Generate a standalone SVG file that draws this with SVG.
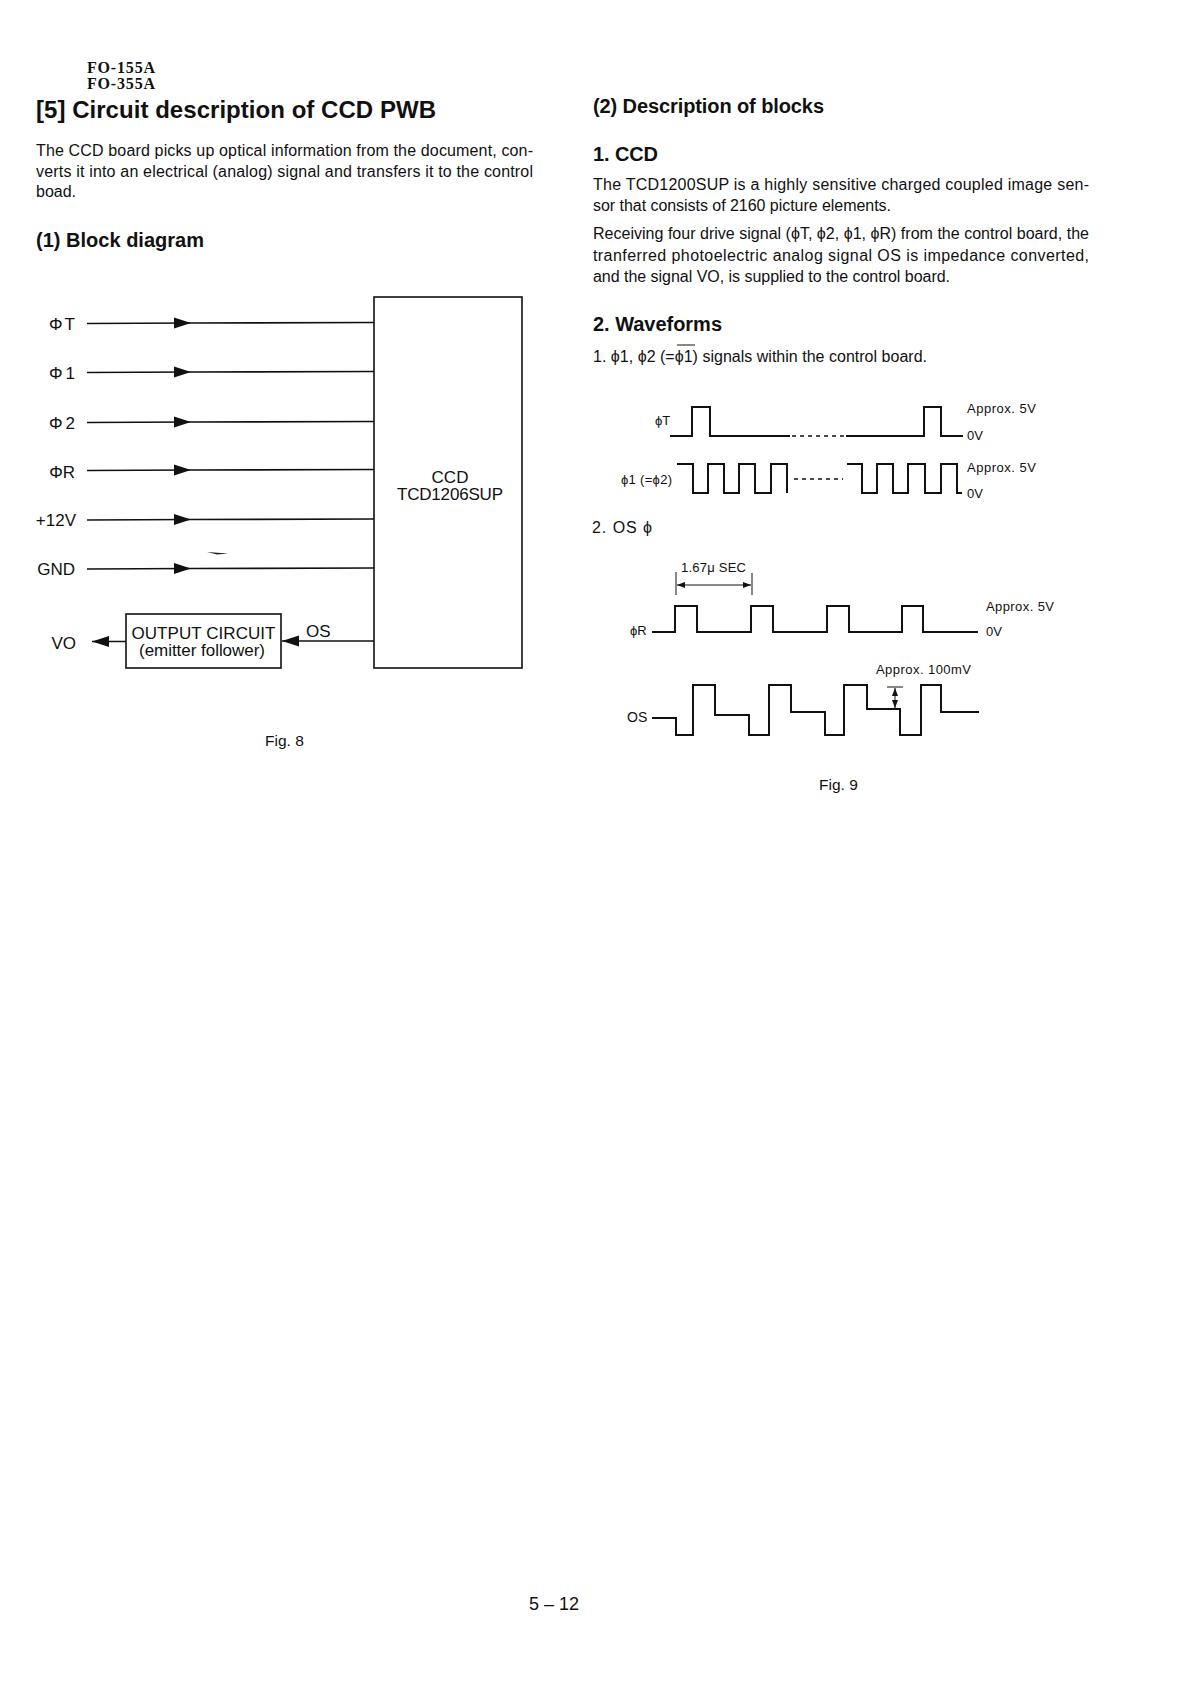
<svg xmlns="http://www.w3.org/2000/svg" width="1192" height="1688" viewBox="0 0 1192 1688">
<style>
text{font-family:"Liberation Sans",Arial,sans-serif;fill:#111}
.h{font-weight:700}
.b{font-size:16px}
.s{font-size:13px}
.d{font-size:17px}
.m{font-family:"Liberation Serif","Times New Roman",serif;font-size:16px;font-weight:700}
.box{fill:none;stroke:#111;stroke-width:1.6}
.c{fill:none;stroke:#111;stroke-width:1.7}
.w{fill:none;stroke:#111;stroke-width:2}
.dash{fill:none;stroke:#111;stroke-width:1.5;stroke-dasharray:4 4}
.t{fill:none;stroke:#111;stroke-width:1}
</style>
<defs>
<marker id="arr" markerUnits="userSpaceOnUse" markerWidth="17" markerHeight="12" refX="17" refY="6" orient="auto"><path d="M0 .5L17 6L0 11.5z" fill="#111"/></marker>
<marker id="sm" markerUnits="userSpaceOnUse" markerWidth="8" markerHeight="7" refX="8" refY="3.5" orient="auto-start-reverse"><path d="M0 .5L8 3.5L0 6.500z" fill="#111"/></marker>
</defs>
<rect width="1192" height="1688" fill="#fff"/>

<g id="page-text">
<text class="m" x="87" y="73" textLength="68">FO-155A</text>
<text class="m" x="87" y="89" textLength="68">FO-355A</text>
<text class="h" x="36" y="118" font-size="24" textLength="400">[5] Circuit description of CCD PWB</text>
<text class="b" x="36" y="155.500" textLength="497">The CCD board picks up optical information from the document, con-</text>
<text class="b" x="36" y="177" textLength="497">verts it into an electrical (analog) signal and transfers it to the control</text>
<text class="b" x="36" y="197">boad.</text>
<text class="h" x="36" y="247" font-size="20" textLength="168">(1) Block diagram</text>
<text class="h" x="593" y="113" font-size="20" textLength="231">(2) Description of blocks</text>
<text class="h" x="593" y="161" font-size="20" textLength="65">1. CCD</text>
<text class="b" x="593" y="190" textLength="496">The TCD1200SUP is a highly sensitive charged coupled image sen-</text>
<text class="b" x="593" y="211" textLength="298">sor that consists of 2160 picture elements.</text>
<text class="b" x="593" y="239" textLength="496">Receiving four drive signal (ϕT, ϕ2, ϕ1, ϕR) from the control board, the</text>
<text class="b" x="593" y="261" textLength="496">tranferred photoelectric analog signal OS is impedance converted,</text>
<text class="b" x="593" y="282" textLength="357">and the signal VO, is supplied to the control board.</text>
<text class="h" x="593" y="331" font-size="20" textLength="129">2. Waveforms</text>
<text class="b" x="593" y="362" textLength="334">1.  ϕ1, ϕ2 (=ϕ1) signals within the control board.</text>
<path class="t" d="M677 345H695"/>
<text class="b" x="592" y="533" textLength="60">2.  OS ϕ</text>
<text x="529" y="1610" font-size="18">5 – 12</text>
</g>

<g id="connectors">
<path class="c" d="M87 323.500L191 323L374 322.500" marker-mid="url(#arr)"/>
<path class="c" d="M87 372.500L191 372L374 371.500" marker-mid="url(#arr)"/>
<path class="c" d="M87 422.500L191 422L374 421.500" marker-mid="url(#arr)"/>
<path class="c" d="M87 470.500L191 470L374 469.500" marker-mid="url(#arr)"/>
<path class="c" d="M87 520L191 519.500L374 519" marker-mid="url(#arr)"/>
<path class="c" d="M87 569L191 568.500L374 568" marker-mid="url(#arr)"/>
<path class="c" d="M374 641H282" marker-end="url(#arr)"/>
<path class="c" d="M126 641.500H92" marker-end="url(#arr)"/>
</g>

<g id="node-ccd">
<rect class="box" x="374" y="297" width="148" height="371"/>
<text class="d" x="450" y="483" text-anchor="middle">CCD</text>
<text class="d" x="450" y="500" text-anchor="middle" textLength="106">TCD1206SUP</text>
</g>
<g id="node-output">
<rect class="box" x="126" y="614" width="155" height="54"/>
<text class="d" x="203.500" y="639" text-anchor="middle" textLength="144">OUTPUT CIRCUIT</text>
<text class="d" x="202" y="656" text-anchor="middle" textLength="126">(emitter follower)</text>
</g>
<g id="labels-left">
<text class="d" x="75" y="330" text-anchor="end" textLength="26">ΦT</text>
<text class="d" x="75" y="379" text-anchor="end" textLength="26">Φ 1</text>
<text class="d" x="75" y="429" text-anchor="end" textLength="26">Φ 2</text>
<text class="d" x="75" y="478" text-anchor="end">ΦR</text>
<text class="d" x="76" y="526" text-anchor="end">+12V</text>
<text class="d" x="75" y="575" text-anchor="end">GND</text>
<text class="d" x="76" y="649" text-anchor="end">VO</text>
<text class="d" x="306" y="637">OS</text>
<text x="265" y="746" font-size="15.500">Fig. 8</text>
</g>
<path id="smudge" d="M207 552L228 553.500L217 554.500z" fill="#222"/>

<g id="waveform-1">
<path class="w" d="M670 436H692V407H710V436H790"/>
<path class="dash" d="M792 436H846"/>
<path class="w" d="M846 436H924V407H941V436H963"/>
<path class="w" d="M677 464H693V493H708V464H724V493H739V464H755V493H771V464H787V493"/>
<path class="dash" d="M794 479H843"/>
<path class="w" d="M847 464H862V493H877V464H893V493H908V464H925V493H941V464H957V493H962"/>
<text class="s" x="655" y="425">ϕT</text>
<text class="s" x="621" y="484" font-size="12" textLength="51">ϕ1 (=ϕ2)</text>
<text class="s" x="967" y="413" textLength="69">Approx. 5V</text>
<text class="s" x="967" y="440">0V</text>
<text class="s" x="967" y="472" textLength="69">Approx. 5V</text>
<text class="s" x="967" y="498">0V</text>
</g>

<g id="waveform-2">
<text class="s" x="681" y="572" textLength="65">1.67μ SEC</text>
<path class="t" d="M676 572V595M752 573V595"/>
<path class="t" d="M677 585H751" marker-start="url(#sm)" marker-end="url(#sm)"/>
<path class="w" d="M652 632H675V606H697V632H751V606H773V632H827V606H849V632H902V606H923V632H978"/>
<text class="s" x="630" y="635">ϕR</text>
<text class="s" x="986" y="611" textLength="68">Approx. 5V</text>
<text class="s" x="986" y="636">0V</text>
<text class="s" x="876" y="674" textLength="95">Approx. 100mV</text>
<path class="w" d="M652 718H676V735H693V685H715V715H749V735H769V685H791V712H825V735H844V685H867V709H900V735H921V685H941V712H979"/>
<text x="627" y="722" font-size="14">OS</text>
<path class="t" d="M887 687H903"/>
<path class="t" d="M895 688V708" marker-start="url(#sm)" marker-end="url(#sm)"/>
<text x="819" y="790" font-size="15.500">Fig. 9</text>
</g>
</svg>
